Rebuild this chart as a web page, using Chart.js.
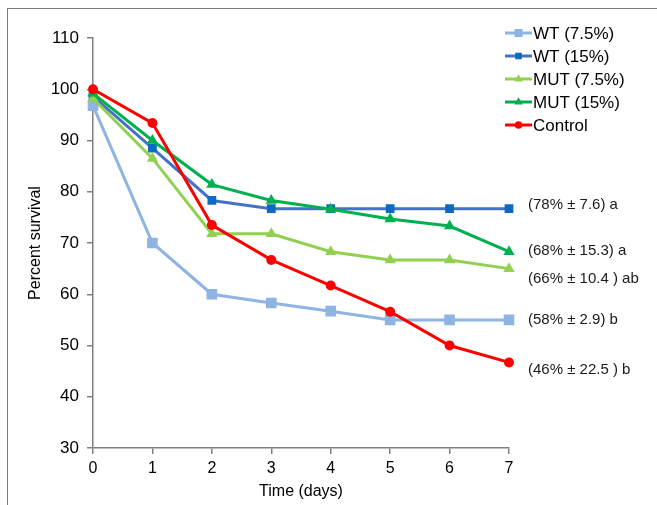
<!DOCTYPE html>
<html>
<head>
<meta charset="utf-8">
<script src="https://cdn.jsdelivr.net/npm/chart.js@4/dist/chart.umd.min.js"></script>
<style>
  html, body { margin: 0; padding: 0; background: #fff; }
  .wrap { position: relative; width: 657px; height: 505px; overflow: hidden; }
  .frame { position: absolute; left: 7px; top: 8px; right: -2px; bottom: -2px;
           border-left: 1.5px solid #7a7a7a; border-top: 1.5px solid #7a7a7a; }
  canvas { position: absolute; left: 0; top: 0; }
</style>
</head>
<body>
<div class="wrap">
  <div class="frame"></div>
  <canvas id="chart" width="657" height="505"></canvas>
</div>
<script>
  // data
  const days = ['0', '1', '2', '3', '4', '5', '6', '7'];
  const seriesNames = ['WT (7.5%)', 'WT (15%)', 'MUT (7.5%)', 'MUT (15%)', 'Control'];
  const wt75 = [96.8, 70.0, 60.0, 58.3, 56.7, 55.0, 55.0, 55.0];
  const wt15 = [98.6, 88.5, 78.3, 76.7, 76.7, 76.7, 76.7, 76.7];
  const mut75 = [98.2, 86.5, 71.8, 71.8, 68.3, 66.7, 66.7, 65.0];
  const mut15 = [99.2, 90.0, 81.4, 78.3, 76.6, 74.7, 73.3, 68.3];
  const control = [100.0, 93.4, 73.5, 66.7, 61.7, 56.6, 50.0, 46.7];
  const yTicks = [30, 40, 50, 60, 70, 80, 90, 100, 110];

  // end-of-line notes (text + y value where they sit)
  const notes = ['(78% ± 7.6) a', '(68% ± 15.3) a', '(66% ± 10.4 ) ab', '(58% ± 2.9) b', '(46% ± 22.5 ) b'];
  const noteY = [77.4, 68.4, 63.0, 55.0, 45.2];

  const FONT = "'Liberation Sans', Arial, sans-serif";
  const AXIS = '#808080';

  const styles = [
    { line: '#8DB4E2', fill: '#8DB4E2', shape: 'rect', r: 7.5, order: 4 },
    { line: '#4472C4', fill: '#0B6BC0', shape: 'rect', r: 6.2, order: 3 },
    { line: '#92D050', fill: '#92D050', shape: 'triangle', r: 6.5, order: 2 },
    { line: '#00B050', fill: '#00B050', shape: 'triangle', r: 6.5, order: 1 },
    { line: '#FF0000', fill: '#FF0000', shape: 'circle', r: 5, order: 0 }
  ];
  const values = [wt75, wt15, mut75, mut15, control];

  const datasets = values.map((v, i) => ({
    label: seriesNames[i],
    data: v,
    borderColor: styles[i].line,
    backgroundColor: styles[i].fill,
    pointBackgroundColor: styles[i].fill,
    pointBorderColor: styles[i].fill,
    pointBorderWidth: 0,
    pointStyle: styles[i].shape,
    pointRadius: styles[i].r,
    borderWidth: 3,
    tension: 0,
    order: styles[i].order
  }));

  // custom legend + notes
  const extras = {
    id: 'extras',
    afterDraw(chart) {
      const c = chart.ctx;
      const area = chart.chartArea;
      const ys = chart.scales.y;
      c.save();
      // legend
      c.font = '17px ' + FONT;
      c.textBaseline = 'middle';
      c.textAlign = 'left';
      seriesNames.forEach((name, i) => {
        const y = 33 + i * 23;
        const st = styles[i];
        c.strokeStyle = st.line;
        c.lineWidth = 3;
        c.beginPath(); c.moveTo(505, y); c.lineTo(532, y); c.stroke();
        c.fillStyle = st.fill;
        Chart.helpers.drawPoint(c, { pointStyle: st.shape, radius: st.r * 0.75, rotation: 0, borderWidth: 0 }, 518.5, y);
        c.fillStyle = '#000';
        c.fillText(name, 533, y + 1);
      });
      // notes
      c.font = '15px ' + FONT;
      c.fillStyle = '#1a1a1a';
      notes.forEach((t, i) => {
        c.fillText(t, area.right + 19, ys.getPixelForValue(noteY[i]));
      });
      c.restore();
    }
  };

  new Chart(document.getElementById('chart'), {
    type: 'line',
    data: { labels: days, datasets },
    options: {
      responsive: false,
      animation: false,
      layout: { padding: { left: 0, top: 38, right: 148, bottom: 0 } },
      plugins: { legend: { display: false }, tooltip: { enabled: false } },
      scales: {
        x: {
          type: 'category',
          offset: false,
          grid: { drawOnChartArea: false, drawTicks: true, tickLength: 6, color: AXIS, lineWidth: 1.5 },
          border: { color: AXIS, width: 1.5 },
          ticks: { color: '#000', font: { family: FONT, size: 16 }, padding: 5, maxRotation: 0 },
          title: { display: true, text: 'Time (days)', color: '#000', font: { family: FONT, size: 16 }, padding: { top: 4, bottom: 4 } },
          afterFit(scale) { scale.height = 57; }
        },
        y: {
          min: 30, max: 110,
          afterBuildTicks(scale) { scale.ticks = yTicks.map(v => ({ value: v })); },
          grid: { drawOnChartArea: false, drawTicks: true, tickLength: 6, color: AXIS, lineWidth: 1.5 },
          border: { color: AXIS, width: 1.5 },
          ticks: { color: '#000', font: { family: FONT, size: 17 }, padding: 8 },
          title: { display: true, text: 'Percent survival', color: '#000', font: { family: FONT, size: 16 }, padding: { top: 26, bottom: 0 } },
          afterFit(scale) { scale.width = 93; }
        }
      }
    },
    plugins: [extras]
  });
</script>
</body>
</html>
